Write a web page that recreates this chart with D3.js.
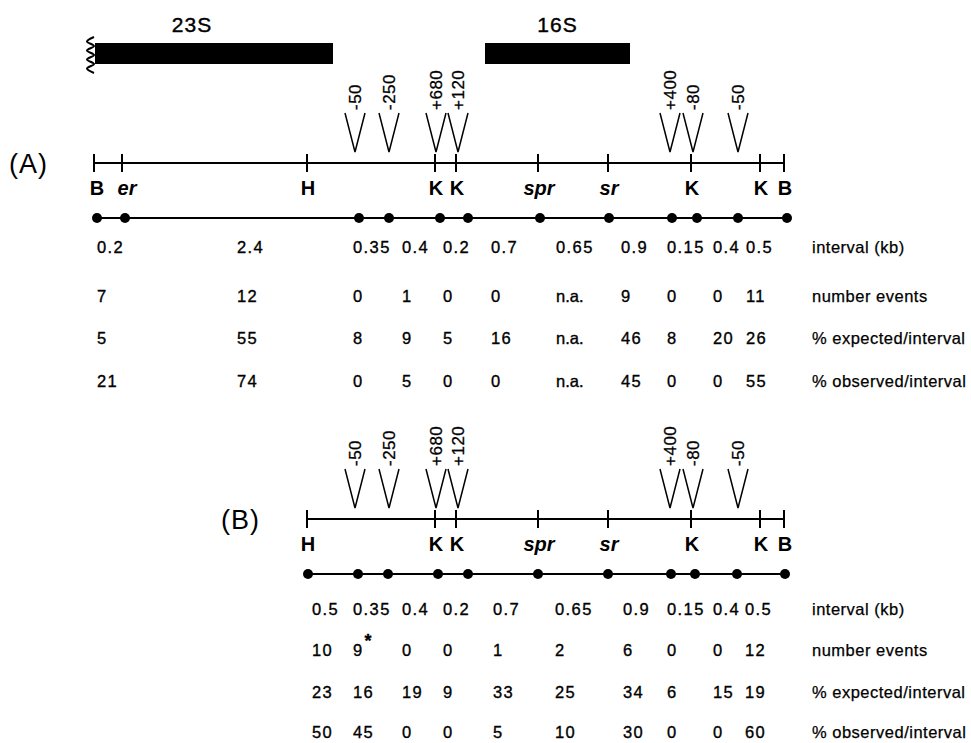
<!DOCTYPE html>
<html>
<head>
<meta charset="utf-8">
<script src="https://cdn.jsdelivr.net/npm/d3@7"></script>
<style>
  html, body { margin: 0; padding: 0; background: #fff; }
  svg { display: block; }
  text { font-family: "Liberation Sans", Arial, Helvetica, sans-serif; fill: #000; }
</style>
</head>
<body>
<svg id="chart" width="971" height="743"></svg>
<script>
// ---------------- data ----------------
// restriction / marker sites on the map (position in kb from the left BamHI site)
const siteNames  = ['B', 'er', 'H', 'K', 'K', 'spr', 'sr', 'K', 'K', 'B'];
const siteKb     = [0, 0.28, 2.13, 3.41, 3.62, 4.44, 5.14, 5.97, 6.66, 6.9];
const siteItalic = [false, true, false, false, false, true, true, false, false, false];

// transposon insertion sites (V symbols)
const insertLabels = ['-50', '-250', '+680', '+120', '+400', '-80', '-50'];
const insertKb     = [2.61, 2.95, 3.42, 3.64, 5.76, 5.99, 6.44];

// rRNA genes above the map
const geneNames = ['23S', '16S'];
const geneStart = [0.01, 3.91];
const geneEnd   = [2.39, 5.36];

// interval boundaries (dots)
const dotKbA = [0.03, 0.31, 2.65, 2.95, 3.46, 3.74, 4.46, 5.15, 5.78, 6.03, 6.44, 6.93];
const dotKbB = [2.14, 2.64, 2.94, 3.44, 3.74, 4.44, 5.14, 5.77, 6.01, 6.43, 6.91];

// table rows
const rowLabels = ['interval (kb)', 'number events', '% expected/interval', '% observed/interval'];

const intervalA = [0.2, 2.4, 0.35, 0.4, 0.2, 0.7, 0.65, 0.9, 0.15, 0.4, 0.5];
const eventsA   = [7, 12, 0, 1, 0, 0, null, 9, 0, 0, 11];
const expectedA = [5, 55, 8, 9, 5, 16, null, 46, 8, 20, 26];
const observedA = [21, 74, 0, 5, 0, 0, null, 45, 0, 0, 55];

const intervalB = [0.5, 0.35, 0.4, 0.2, 0.7, 0.65, 0.9, 0.15, 0.4, 0.5];
const eventsB   = [10, 9, 0, 0, 1, 2, 6, 0, 0, 12];
const eventsBStar = [false, true, false, false, false, false, false, false, false, false];
const expectedB = [23, 16, 19, 9, 33, 25, 34, 6, 15, 19];
const observedB = [50, 45, 0, 0, 5, 10, 30, 0, 0, 60];

// ---------------- layout ----------------
const colKbA = [0.03, 1.43, 2.59, 3.08, 3.49, 3.97, 4.62, 5.27, 5.73, 6.19, 6.52];
const colKbB = [2.18, 2.59, 3.08, 3.49, 3.99, 4.61, 5.29, 5.73, 6.19, 6.51];
const labelKb = 7.18;

const svg = d3.select('#chart');
const x = d3.scaleLinear().domain([0, 6.9]).range([94, 784]);
const fmt = v => v === null ? 'n.a.' : String(v);

// ---------------- genes ----------------
const genes = geneNames.map((n, i) => ({ name: n, s: geneStart[i], e: geneEnd[i] }));
const gG = svg.append('g');
gG.selectAll('rect').data(genes).join('rect')
  .attr('x', d => x(d.s)).attr('y', 43)
  .attr('width', d => x(d.e) - x(d.s)).attr('height', 21)
  .attr('fill', '#000');
gG.selectAll('text').data(genes).join('text')
  .attr('x', d => (x(d.s) + x(d.e)) / 2 + (d.name === '23S' ? -22 : 0))
  .attr('y', 32)
  .attr('text-anchor', 'middle')
  .attr('font-size', 21)
  .attr('letter-spacing', 1)
  .attr('stroke', '#000').attr('stroke-width', 0.4)
  .text(d => d.name);
// broken (wavy) left end of 23S
{
  const x0 = x(genes[0].s);
  const pts = [];
  for (let k = 0; k <= 8; k++) pts.push([x0 - 4 + (k % 2 ? -4 : 3), 37 + k * 4.5]);
  gG.append('path')
    .attr('d', d3.line().curve(d3.curveCatmullRom)(pts))
    .attr('fill', 'none').attr('stroke', '#000').attr('stroke-width', 2);
}

// ---------------- panel drawing ----------------
function drawPanel(opt) {
  const g = svg.append('g');
  const lineY = opt.lineY;
  // panel tag
  g.append('text').attr('x', opt.tagX).attr('y', lineY + 10)
    .attr('font-size', 27).attr('letter-spacing', 1).text(opt.tag);

  // inserts
  const ins = insertKb.map((k, i) => ({ k, l: insertLabels[i] }));
  const vTop = lineY - 50, vTip = lineY - 11;
  g.selectAll('path.v').data(ins).join('path').attr('class', 'v')
    .attr('d', d => d3.line()([[x(d.k) - 10, vTop], [x(d.k), vTip], [x(d.k) + 10, vTop]]))
    .attr('fill', 'none').attr('stroke', '#000').attr('stroke-width', 1.5);
  g.selectAll('text.ins').data(ins).join('text').attr('class', 'ins')
    .attr('transform', d => `translate(${x(d.k) + 6},${vTop - 3}) rotate(-90)`)
    .attr('font-size', 17).attr('letter-spacing', 0.5)
    .attr('stroke', '#000').attr('stroke-width', 0.3)
    .text(d => d.l);

  // map line
  const sites = siteKb.map((k, i) => ({ k, n: siteNames[i], it: siteItalic[i] }))
    .filter(d => d.k >= opt.startKb);
  g.append('line').attr('x1', x(opt.startKb)).attr('x2', x(6.9))
    .attr('y1', lineY).attr('y2', lineY).attr('stroke', '#000').attr('stroke-width', 2);
  g.selectAll('line.tick').data(sites).join('line').attr('class', 'tick')
    .attr('x1', d => x(d.k)).attr('x2', d => x(d.k))
    .attr('y1', lineY - 9).attr('y2', lineY + 9)
    .attr('stroke', '#000').attr('stroke-width', 2);
  g.selectAll('text.site').data(sites).join('text').attr('class', 'site')
    .attr('x', d => x(d.k) + (d.n === 'er' ? 5 : (d.n === 'B' && d.k === 0 ? 3 : 1)))
    .attr('y', lineY + 32)
    .attr('text-anchor', 'middle')
    .attr('font-size', 20).attr('font-weight', 'bold')
    .attr('font-style', d => d.it ? 'italic' : 'normal')
    .text(d => d.n);

  // interval dots
  const dy = lineY + 55;
  g.append('line').attr('x1', x(opt.dots[0])).attr('x2', x(opt.dots[opt.dots.length - 1]))
    .attr('y1', dy).attr('y2', dy).attr('stroke', '#000').attr('stroke-width', 2);
  g.selectAll('circle').data(opt.dots).join('circle')
    .attr('cx', d => x(d)).attr('cy', dy).attr('r', 5).attr('fill', '#000');

  // table
  opt.rows.forEach((vals, r) => {
    const y = opt.rowY[r];
    const cells = vals.map((v, i) => ({ v, c: opt.cols[i], star: r === 1 && opt.star && opt.star[i] }));
    const t = g.selectAll(null).data(cells).join('text')
      .attr('x', d => x(d.c)).attr('y', y)
      .attr('font-size', 16.5).attr('letter-spacing', d => d.v === null ? 0 : 1.4)
      .attr('stroke', '#000').attr('stroke-width', 0.35);
    t.append('tspan').text(d => fmt(d.v));
    t.filter(d => d.star).append('tspan')
      .attr('dy', -9).attr('dx', 1).attr('font-size', 18).attr('font-weight', 'bold').text('*');
    g.append('text').attr('x', x(labelKb)).attr('y', y)
      .attr('font-size', 16.5).attr('letter-spacing', 0.5)
      .attr('stroke', '#000').attr('stroke-width', 0.25)
      .text(rowLabels[r]);
  });
}

drawPanel({
  tag: '(A)', tagX: 9, lineY: 163, startKb: 0,
  dots: dotKbA, cols: colKbA,
  rows: [intervalA, eventsA, expectedA, observedA],
  rowY: [253, 302, 344, 387]
});
drawPanel({
  tag: '(B)', tagX: 221, lineY: 519, startKb: 2.13,
  dots: dotKbB, cols: colKbB, star: eventsBStar,
  rows: [intervalB, eventsB, expectedB, observedB],
  rowY: [615, 656, 698, 738]
});
</script>
</body>
</html>
